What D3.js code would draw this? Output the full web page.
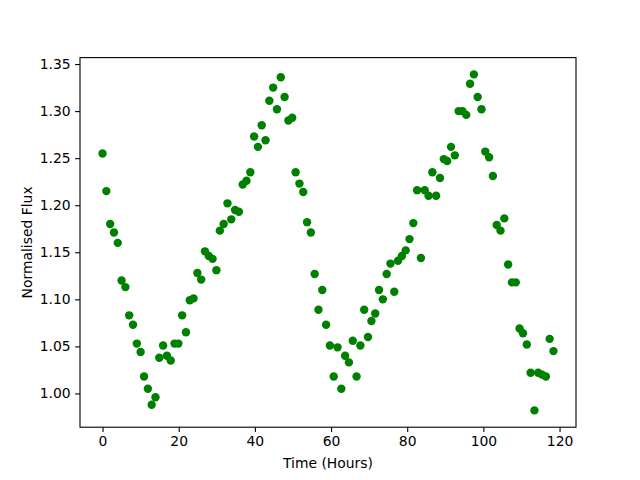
<!DOCTYPE html>
<html>
<head>
<meta charset="utf-8">
<script src="https://cdn.jsdelivr.net/npm/d3@7"></script>
<style>
  body { margin: 0; background: #fff; }
  svg text { font-family: "DejaVu Sans", sans-serif; fill: #000; }
</style>
</head>
<body>
<figure id="scatter" style="margin:0"></figure>
<script>
// time of each observation (hours)
const hours = [
  0.0, 1.0, 2.0, 3.0, 4.0, 5.0, 6.0, 7.0, 8.0, 9.0,
  10.0, 10.9, 11.9, 12.9, 13.9, 14.9, 15.9, 16.9, 17.9, 18.9,
  19.9, 20.9, 21.9, 22.9, 23.9, 24.9, 25.9, 26.9, 27.9, 28.9,
  29.9, 30.8, 31.8, 32.8, 33.8, 34.8, 35.8, 36.8, 37.8, 38.8,
  39.8, 40.8, 41.8, 42.8, 43.8, 44.8, 45.8, 46.8, 47.8, 48.8,
  49.8, 50.7, 51.7, 52.7, 53.7, 54.7, 55.7, 56.7, 57.7, 58.7,
  59.7, 60.7, 61.7, 62.7, 63.7, 64.7, 65.7, 66.7, 67.7, 68.7,
  69.7, 70.6, 71.6, 72.6, 73.6, 74.6, 75.6, 76.6, 77.6, 78.6,
  79.6, 80.6, 81.6, 82.6, 83.6, 84.6, 85.6, 86.6, 87.6, 88.6,
  89.6, 90.5, 91.5, 92.5, 93.5, 94.5, 95.5, 96.5, 97.5, 98.5,
  99.5, 100.5, 101.5, 102.5, 103.5, 104.5, 105.5, 106.5, 107.5, 108.5,
  109.5, 110.4, 111.4, 112.4, 113.4, 114.4, 115.4, 116.4, 117.4, 118.4
];

// normalised flux at each time
const flux = [
  1.255, 1.215, 1.180, 1.171, 1.160, 1.120, 1.113, 1.083, 1.073, 1.053,
  1.044, 1.018, 1.005, 0.988, 0.996, 1.038, 1.051, 1.040, 1.035, 1.053,
  1.053, 1.083, 1.065, 1.099, 1.101, 1.128, 1.121, 1.151, 1.146, 1.143,
  1.131, 1.173, 1.180, 1.202, 1.185, 1.195, 1.193, 1.222, 1.226, 1.235,
  1.273, 1.262, 1.285, 1.269, 1.311, 1.325, 1.302, 1.336, 1.315, 1.290,
  1.293, 1.235, 1.223, 1.214, 1.182, 1.171, 1.127, 1.089, 1.110, 1.073,
  1.051, 1.018, 1.049, 1.005, 1.040, 1.033, 1.056, 1.018, 1.051, 1.089,
  1.060, 1.077, 1.085, 1.110, 1.100, 1.127, 1.138, 1.108, 1.141, 1.146,
  1.152, 1.164, 1.181, 1.216, 1.144, 1.216, 1.210, 1.235, 1.210, 1.229,
  1.249, 1.247, 1.262, 1.253, 1.300, 1.300, 1.296, 1.329, 1.339, 1.315,
  1.302, 1.257, 1.251, 1.231, 1.179, 1.173, 1.186, 1.137, 1.118, 1.118,
  1.069, 1.064, 1.052, 1.022, 0.982, 1.022, 1.020, 1.018, 1.058, 1.045
];

const xTicks = [0, 20, 40, 60, 80, 100, 120];
const yTicks = [1.00, 1.05, 1.10, 1.15, 1.20, 1.25, 1.30, 1.35];

const W = 640, H = 480;
const margin = { left: 80, top: 57.6, right: 64, bottom: 52.8 };
const width = W - margin.left - margin.right;
const height = H - margin.top - margin.bottom;

const svg = d3.select("figure#scatter")
  .append("svg")
  .attr("width", W)
  .attr("height", H);

// matplotlib style 5% margins around the data
const pad = (ext) => {
  const m = (ext[1] - ext[0]) * 0.05;
  return [ext[0] - m, ext[1] + m];
};

const x = d3.scaleLinear()
  .domain(pad(d3.extent(hours)))
  .range([0, width]);

const y = d3.scaleLinear()
  .domain(pad(d3.extent(flux)))
  .range([height, 0]);

const g = svg.append("g")
  .attr("transform", "translate(" + margin.left + "," + margin.top + ")");

// points
g.selectAll("circle")
  .data(hours.map((h, i) => ({ h: h, f: flux[i] })))
  .enter()
  .append("circle")
  .attr("cx", d => x(d.h))
  .attr("cy", d => y(d.f))
  .attr("r", 4.2)
  .attr("fill", "#008000");

// x axis
const xAxis = g.append("g")
  .attr("transform", "translate(0," + height + ")")
  .call(d3.axisBottom(x).tickValues(xTicks).tickSize(4.9).tickPadding(4.5));
xAxis.select(".domain").remove();
xAxis.selectAll("text").style("font-size", "13.9px");
xAxis.selectAll("line").attr("stroke-width", 1.1);

// y axis
const yAxis = g.append("g")
  .call(d3.axisLeft(y).tickValues(yTicks).tickFormat(d3.format(".2f")).tickSize(4.9).tickPadding(4.5));
yAxis.select(".domain").remove();
yAxis.selectAll("text").style("font-size", "13.9px");
yAxis.selectAll("line").attr("stroke-width", 1.1);

// frame
g.append("rect")
  .attr("width", width)
  .attr("height", height)
  .attr("fill", "none")
  .attr("stroke", "#000")
  .attr("stroke-width", 1.1);

// axis labels
svg.append("text")
  .attr("x", margin.left + width / 2)
  .attr("y", 468)
  .attr("text-anchor", "middle")
  .style("font-size", "13.9px")
  .text("Time (Hours)");

svg.append("text")
  .attr("transform", "translate(32," + (margin.top + height / 2) + ") rotate(-90)")
  .attr("text-anchor", "middle")
  .style("font-size", "13.9px")
  .text("Normalised Flux");
</script>
</body>
</html>
